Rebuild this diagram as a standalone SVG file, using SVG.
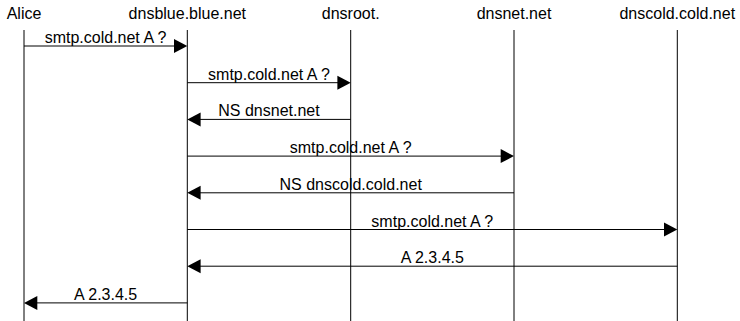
<svg xmlns="http://www.w3.org/2000/svg" width="740" height="321" viewBox="0 0 740 321">
  <defs>
    <style>
      text { font-family: "Liberation Sans", Arial, Helvetica, sans-serif; font-size: 16px; fill: #000; text-anchor: middle; }
      .life { stroke: #000; stroke-width: 1; fill: none; }
      .msg { stroke: #000; stroke-width: 1; fill: none; }
      .head { fill: #000; stroke: none; }
    </style>
  </defs>
  <rect x="0" y="0" width="740" height="321" fill="#fff"/>
  <g id="alice">
    <text x="24" y="19">Alice</text>
    <line class="life" x1="24" y1="30" x2="24" y2="321"/>
  </g>
  <g id="dnsblue">
    <text x="187.3" y="19">dnsblue.blue.net</text>
    <line class="life" x1="187.3" y1="30" x2="187.3" y2="321"/>
  </g>
  <g id="dnsroot">
    <text x="350.7" y="19">dnsroot.</text>
    <line class="life" x1="350.7" y1="30" x2="350.7" y2="321"/>
  </g>
  <g id="dnsnet">
    <text x="514" y="19">dnsnet.net</text>
    <line class="life" x1="514" y1="30" x2="514" y2="321"/>
  </g>
  <g id="dnscold">
    <text x="677.3" y="19">dnscold.cold.net</text>
    <line class="life" x1="677.3" y1="30" x2="677.3" y2="321"/>
  </g>
  <g id="connectors">
    <!-- 1 Alice -> dnsblue -->
    <line class="msg" x1="24" y1="46" x2="176" y2="46"/>
    <polygon class="head" points="187.3,46 174,39 174,53"/>
    <text x="105.6" y="43">smtp.cold.net A ?</text>
    <!-- 2 dnsblue -> dnsroot -->
    <line class="msg" x1="187.3" y1="82.7" x2="340" y2="82.7"/>
    <polygon class="head" points="350.7,82.7 337.4,75.7 337.4,89.7"/>
    <text x="269" y="79.7">smtp.cold.net A ?</text>
    <!-- 3 dnsroot -> dnsblue -->
    <line class="msg" x1="350.7" y1="119.4" x2="198" y2="119.4"/>
    <polygon class="head" points="187.3,119.4 200.6,112.4 200.6,126.4"/>
    <text x="269" y="116.4">NS dnsnet.net</text>
    <!-- 4 dnsblue -> dnsnet -->
    <line class="msg" x1="187.3" y1="156.1" x2="503" y2="156.1"/>
    <polygon class="head" points="514,156.1 500.7,149.1 500.7,163.1"/>
    <text x="350.7" y="153.1">smtp.cold.net A ?</text>
    <!-- 5 dnsnet -> dnsblue -->
    <line class="msg" x1="514" y1="192.8" x2="198" y2="192.8"/>
    <polygon class="head" points="187.3,192.8 200.6,185.8 200.6,199.8"/>
    <text x="350.7" y="189.8">NS dnscold.cold.net</text>
    <!-- 6 dnsblue -> dnscold -->
    <line class="msg" x1="187.3" y1="229.5" x2="666" y2="229.5"/>
    <polygon class="head" points="677.3,229.5 664,222.5 664,236.5"/>
    <text x="432.3" y="226.5">smtp.cold.net A ?</text>
    <!-- 7 dnscold -> dnsblue -->
    <line class="msg" x1="677.3" y1="266.2" x2="198" y2="266.2"/>
    <polygon class="head" points="187.3,266.2 200.6,259.2 200.6,273.2"/>
    <text x="432.3" y="263.2">A 2.3.4.5</text>
    <!-- 8 dnsblue -> Alice -->
    <line class="msg" x1="187.3" y1="302.9" x2="35" y2="302.9"/>
    <polygon class="head" points="24,302.9 37.3,295.9 37.3,309.9"/>
    <text x="105.6" y="299.9">A 2.3.4.5</text>
  </g>
</svg>
